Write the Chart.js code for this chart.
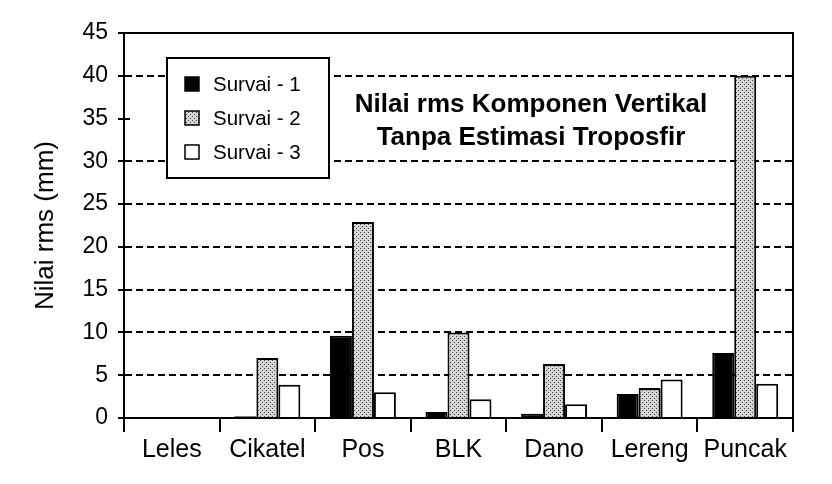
<!DOCTYPE html>
<html>
<head>
    <meta charset="UTF-8">
    <title>Nilai rms Komponen Vertikal</title>
    <script src="https://cdn.jsdelivr.net/npm/chart.js"></script>
    <style>
        body { margin: 0; background: #fff; }
    </style>
</head>
<body>
    <canvas id="rmsChart" width="832" height="484"></canvas>

<script>
        const stations = ['Leles', 'Cikatel', 'Pos', 'BLK', 'Dano', 'Lereng', 'Puncak'];
        const survai1 = [0, 0.2, 9.6, 0.7, 0.5, 2.8, 7.6];
        const survai2 = [0, 7.0, 22.9, 10.0, 6.3, 3.5, 40.0];
        const survai3 = [0, 3.9, 3.0, 2.2, 1.6, 4.5, 4.0];
        const yTicks = [0, 5, 10, 15, 20, 25, 30, 35, 40, 45];
        const seriesNames = ['Survai - 1', 'Survai - 2', 'Survai - 3'];
        const titleLines = ['Nilai rms Komponen Vertikal', 'Tanpa Estimasi Troposfir'];
        const yTitle = 'Nilai rms (mm)';

        const FONT = "'Liberation Sans', Arial, sans-serif";
        Chart.defaults.font.family = FONT;
        Chart.defaults.color = '#000';

        // stippled grey fill used for survai 2
        function dotPattern() {
            const c = document.createElement('canvas');
            c.width = 4; c.height = 4;
            const g = c.getContext('2d');
            g.fillStyle = '#d6d6d6';
            g.fillRect(0, 0, 4, 4);
            g.fillStyle = '#444';
            g.fillRect(0, 0, 1, 1);
            g.fillRect(2, 2, 1, 1);
            return g.createPattern(c, 'repeat');
        }
        const dots = dotPattern();

        const extras = {
            id: 'extras',
            afterDatasetsDraw(chart) {
                const ctx = chart.ctx;
                const a = chart.chartArea;
                const y = chart.scales.y;
                ctx.save();
                ctx.strokeStyle = '#000';
                ctx.lineWidth = 2;
                ctx.strokeRect(a.left, a.top, a.right - a.left, a.bottom - a.top);

                // tick marks crossing the y axis
                ctx.beginPath();
                yTicks.forEach(v => {
                    const py = Math.round(y.getPixelForValue(v));
                    ctx.moveTo(a.left - 6, py);
                    ctx.lineTo(a.left + 6, py);
                });
                ctx.stroke();

                // legend box
                const bx = 167, by = 58, bw = 162, bh = 120;
                ctx.fillStyle = '#fff';
                ctx.fillRect(bx, by, bw, bh);
                ctx.strokeRect(bx, by, bw, bh);
                ctx.font = '20.5px ' + FONT;
                ctx.textBaseline = 'middle';
                ctx.textAlign = 'left';
                chart.data.datasets.forEach((ds, i) => {
                    const cy = 84 + i * 34;
                    ctx.fillStyle = ds.backgroundColor;
                    ctx.fillRect(185, cy - 7, 14, 14);
                    ctx.lineWidth = 1.5;
                    ctx.strokeRect(185, cy - 7, 14, 14);
                    ctx.fillStyle = '#000';
                    ctx.fillText(ds.label, 213, cy + 1);
                });

                // title inside the plot
                ctx.font = 'bold 26px ' + FONT;
                ctx.textAlign = 'center';
                ctx.textBaseline = 'alphabetic';
                ctx.fillText(titleLines[0], 531, 112);
                ctx.fillText(titleLines[1], 531, 145);
                ctx.restore();
            }
        };

        new Chart(document.getElementById('rmsChart'), {
            type: 'bar',
            data: {
                labels: stations,
                datasets: [
                    { label: seriesNames[0], data: survai1, backgroundColor: '#000' },
                    { label: seriesNames[1], data: survai2, backgroundColor: dots },
                    { label: seriesNames[2], data: survai3, backgroundColor: '#fff' }
                ].map(d => Object.assign(d, {
                    borderColor: '#000',
                    borderWidth: 2,
                    categoryPercentage: 0.69,
                    barPercentage: 1.0
                }))
            },
            options: {
                responsive: false,
                animation: false,
                layout: { padding: { top: 33, right: 39, left: 0, bottom: 0 } },
                plugins: {
                    legend: { display: false },
                    tooltip: { enabled: false }
                },
                scales: {
                    x: {
                        afterFit(s) { s.height = 66; },
                        grid: {
                            offset: true,
                            drawOnChartArea: false,
                            tickLength: 14,
                            color: '#000',
                            lineWidth: 2
                        },
                        border: { color: '#000', width: 2 },
                        ticks: { font: { size: 25 }, padding: 3, maxRotation: 0 }
                    },
                    y: {
                        min: 0,
                        max: 45,
                        afterFit(s) { s.width = 124; },
                        afterBuildTicks(s) { s.ticks = yTicks.map(v => ({ value: v })); },
                        grid: {
                            drawTicks: false,
                            color: c => [0, 35, 45].includes(c.tick.value) ? 'rgba(0,0,0,0)' : '#000',
                            lineWidth: 2
                        },
                        border: { color: '#000', width: 2, dash: [7, 4] },
                        ticks: { font: { size: 23 }, padding: 16 },
                        title: {
                            display: true,
                            text: yTitle,
                            font: { size: 26 },
                            padding: { top: 30, bottom: 0 }
                        }
                    }
                }
            },
            plugins: [extras]
        });
</script>
</body>
</html>
